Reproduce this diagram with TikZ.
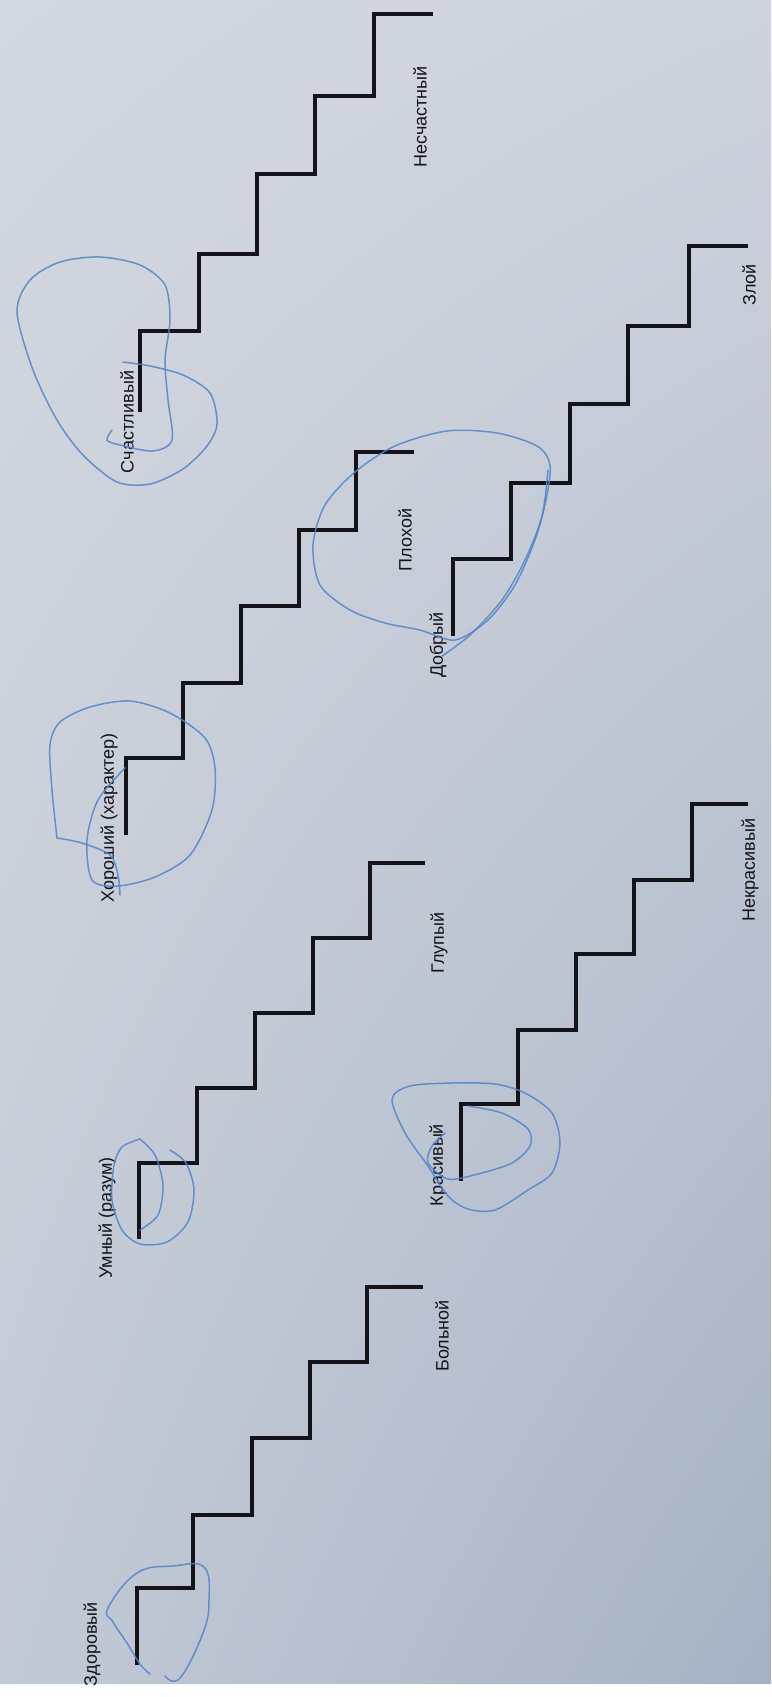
\documentclass[tikz,border=0pt]{standalone}
\usepackage{fontspec}
\setmainfont{Liberation Sans}
\usepackage{tikz}
\usetikzlibrary{positioning,shadings}
\definecolor{paperul}{RGB}{212,216,223}
\definecolor{paperur}{RGB}{205,211,221}
\definecolor{paperll}{RGB}{194,202,214}
\definecolor{paperlr}{RGB}{166,178,196}
\definecolor{ink}{RGB}{20,20,24}
\definecolor{biro}{RGB}{82,132,200}
\tikzset{
    stair/.style={draw=ink, line width=4pt, line join=miter},
    pen/.style={draw=biro, line width=1.5pt, line cap=round, line join=round, opacity=0.85},
    word/.style={rotate=90, inner sep=0pt, text=ink, font=\fontsize{18}{20}\selectfont}
}

\begin{document}
\begin{tikzpicture}[x=1pt, y=-1pt]
    \useasboundingbox (0,0) rectangle (771,1697);
    \shade[upper left=paperul, upper right=paperur, lower left=paperll, lower right=paperlr]
        (0,0) rectangle (771,1684);
    \fill[white] (0,1684) rectangle (771,1697);

    \draw[stair] (137,1665) |- (193,1588) |- (252,1515) |- (310,1438) |- (367,1362) |- (423,1287);
    \draw[stair] (139,1239) |- (197,1163) |- (255,1088) |- (313,1013) |- (370,938) |- (425,863);
    \draw[stair] (461,1181) |- (518,1104) |- (576,1030) |- (634,954) |- (692,880) |- (748,804);
    \draw[stair] (126,835) |- (183,758) |- (241,683) |- (299,606) |- (356,530) |- (414,452);
    \draw[stair] (453,636) |- (511,559) |- (570,483) |- (628,404) |- (689,326) |- (748,246);
    \draw[stair] (140,412) |- (199,331) |- (257,254) |- (315,174) |- (374,96) |- (433,14);

    \node[word] (zdorov) at (92,1644) {Здоровый};
    \node[word] (boln) at (442,1336) {Больной};
    \node[word] (umn) at (107,1218) {Умный (разум)};
    \node[word] (glup) at (439,943) {Глупый};
    \node[word] (krasiv) at (438,1165) {Красивый};
    \node[word] (nekrasiv) at (750,870) {Некрасивый};
    \node[word] (horosh) at (109,818) {Хороший (характер)};
    \node[word] (ploh) at (405,540) {Плохой};
    \node[word] (dobr) at (438,645) {Добрый};
    \node[word] (zloi) at (749,285) {Злой};
    \node[word] (schast) at (127,422) {Счастливый};
    \node[word] (neschast) at (420,117) {Несчастный};

    \draw[pen] plot[smooth, tension=0.7] coordinates {(150,1674) (140,1664) (127,1643) (113,1622) (108,1608) (137,1573) (173,1566) (204,1567) (209,1600) (203,1633) (180,1678) (165,1676)};
    \draw[pen] plot[smooth] coordinates {(140,1139) (122,1147) (114,1165) (112,1200) (122,1230) (140,1244) (167,1242) (188,1222) (194,1190) (186,1163) (170,1150)};
    \draw[pen] plot[smooth] coordinates {(140,1139) (155,1155) (163,1185) (158,1215) (140,1230)};
    \draw[pen] plot[smooth] coordinates {(57,838) (52,790) (50,745) (60,722) (90,707) (130,701) (170,713) (205,738) (215,768) (212,810) (190,855) (155,877) (118,886) (92,880) (87,840) (98,800) (125,768)};
    \draw[pen] plot[smooth] coordinates {(57,838) (82,843) (110,855) (118,875) (120,895)};
    \draw[pen] plot[smooth cycle] coordinates {(392,1099) (410,1086) (452,1083) (495,1084) (525,1093) (552,1113) (560,1143) (552,1173) (528,1190) (495,1210) (468,1209) (448,1196) (428,1166) (405,1133)};
    \draw[pen] plot[smooth] coordinates {(468,1106) (502,1113) (528,1129) (530,1146) (512,1163) (478,1174) (448,1179) (428,1163) (432,1146) (445,1133)};
    \draw[pen] plot[smooth cycle] coordinates {(395,446) (447,431) (497,433) (537,446) (550,465) (546,500) (535,540) (515,585) (488,620) (455,640) (420,630) (385,623) (350,610) (320,585) (313,545) (325,505) (355,472)};
    \draw[pen] plot[smooth] coordinates {(442,656) (470,635) (502,600) (525,560) (542,516) (548,470)};
    \draw[pen] plot[smooth] coordinates {(123,362) (150,366) (183,375) (210,393) (217,424) (207,446) (183,469) (150,484) (117,482) (83,455) (57,420) (33,370) (17,312) (30,280) (60,262) (100,257) (140,265) (165,285) (170,320) (165,360) (168,400) (172,440) (153,451) (120,445) (107,440) (112,430)};
\end{tikzpicture}
\end{document}
